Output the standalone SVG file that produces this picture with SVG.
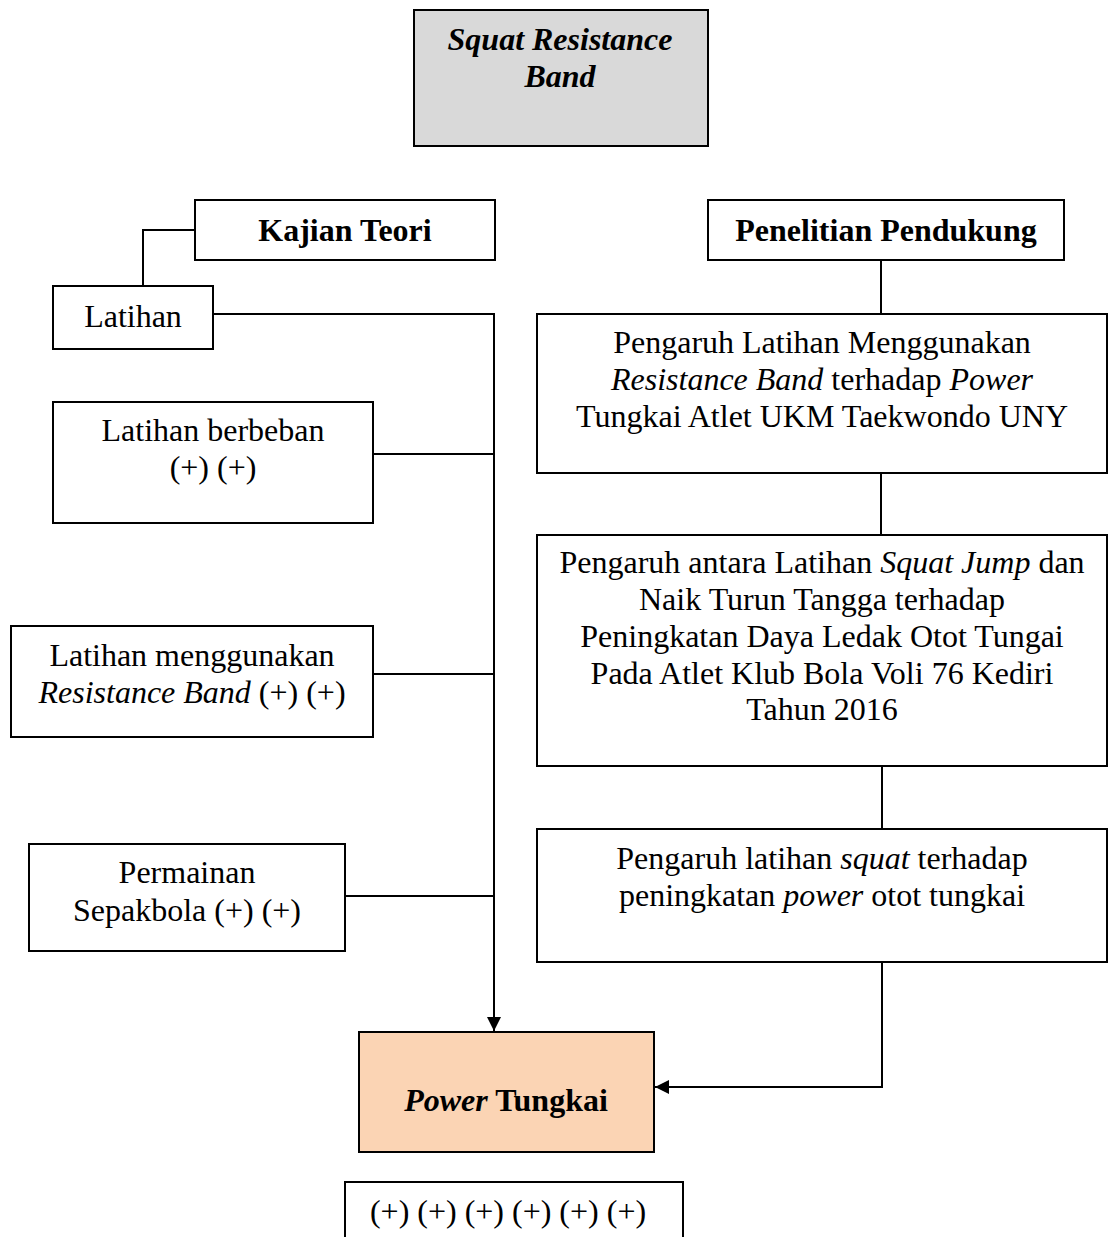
<svg xmlns="http://www.w3.org/2000/svg" width="1109" height="1237" viewBox="0 0 1109 1237">
<style>
.box{fill:#fff;stroke:#000;stroke-width:2}
.t{font-family:"Liberation Serif","Times New Roman",serif;font-size:32px;fill:#000;text-anchor:middle}
.b{font-weight:bold}
.i{font-style:italic}
.c{fill:none;stroke:#000;stroke-width:2}
</style>
<defs>
<marker id="ah" viewBox="0 0 10 10" refX="10" refY="5" markerWidth="7" markerHeight="7" markerUnits="strokeWidth" orient="auto">
<path d="M0,0 L10,5 L0,10 z" fill="#000"/>
</marker>
</defs>
<rect width="1109" height="1237" fill="#fff"/>
<g id="connectors">
<path class="c" d="M195,230 H143 V286"/>
<path class="c" d="M213,314 H494 V1031" marker-end="url(#ah)"/>
<path class="c" d="M373,454 H494"/>
<path class="c" d="M373,674 H494"/>
<path class="c" d="M345,896 H494"/>
<path class="c" d="M881,260 V314"/>
<path class="c" d="M881,473 V535"/>
<path class="c" d="M882,766 V829"/>
<path class="c" d="M882,962 V1087 H655" marker-end="url(#ah)"/>
</g>
<g id="squat">
<rect x="414" y="10" width="294" height="136" fill="#d9d9d9" stroke="#000" stroke-width="2"/>
<text class="t b i" x="560" y="50">Squat Resistance</text>
<text class="t b i" x="560" y="87">Band</text>
</g>
<g id="kajian">
<rect class="box" x="195" y="200" width="300" height="60"/>
<text class="t b" x="345" y="241">Kajian Teori</text>
</g>
<g id="penelitian">
<rect class="box" x="708" y="200" width="356" height="60"/>
<text class="t b" x="886" y="241">Penelitian Pendukung</text>
</g>
<g id="latihan">
<rect class="box" x="53" y="286" width="160" height="63"/>
<text class="t" x="133" y="327">Latihan</text>
</g>
<g id="berbeban">
<rect class="box" x="53" y="402" width="320" height="121"/>
<text class="t" x="213" y="441">Latihan berbeban</text>
<text class="t" x="213" y="478">(+) (+)</text>
</g>
<g id="resband">
<rect class="box" x="11" y="626" width="362" height="111"/>
<text class="t" x="192" y="666">Latihan menggunakan</text>
<text class="t" x="192" y="703"><tspan class="i">Resistance Band</tspan> (+) (+)</text>
</g>
<g id="sepakbola">
<rect class="box" x="29" y="844" width="316" height="107"/>
<text class="t" x="187" y="883">Permainan</text>
<text class="t" x="187" y="921">Sepakbola (+) (+)</text>
</g>
<g id="power">
<rect x="359" y="1032" width="295" height="120" fill="#fbd4b4" stroke="#000" stroke-width="2"/>
<text class="t b" x="506" y="1111"><tspan class="i">Power</tspan> Tungkai</text>
</g>
<g id="plus">
<rect class="box" x="345" y="1182" width="338" height="70"/>
<text class="t" x="508" y="1222">(+) (+) (+) (+) (+) (+)</text>
</g>
<g id="p1">
<rect class="box" x="537" y="314" width="570" height="159"/>
<text class="t" x="822" y="353">Pengaruh Latihan Menggunakan</text>
<text class="t" x="822" y="390"><tspan class="i">Resistance Band</tspan> terhadap <tspan class="i">Power</tspan></text>
<text class="t" x="822" y="427">Tungkai Atlet UKM Taekwondo UNY</text>
</g>
<g id="p2">
<rect class="box" x="537" y="535" width="570" height="231"/>
<text class="t" x="822" y="573">Pengaruh antara Latihan <tspan class="i">Squat Jump</tspan> dan</text>
<text class="t" x="822" y="610">Naik Turun Tangga terhadap</text>
<text class="t" x="822" y="647">Peningkatan Daya Ledak Otot Tungai</text>
<text class="t" x="822" y="684">Pada Atlet Klub Bola Voli 76 Kediri</text>
<text class="t" x="822" y="720">Tahun 2016</text>
</g>
<g id="p3">
<rect class="box" x="537" y="829" width="570" height="133"/>
<text class="t" x="822" y="869">Pengaruh latihan <tspan class="i">squat</tspan> terhadap</text>
<text class="t" x="822" y="906">peningkatan <tspan class="i">power</tspan> otot tungkai</text>
</g>
</svg>
